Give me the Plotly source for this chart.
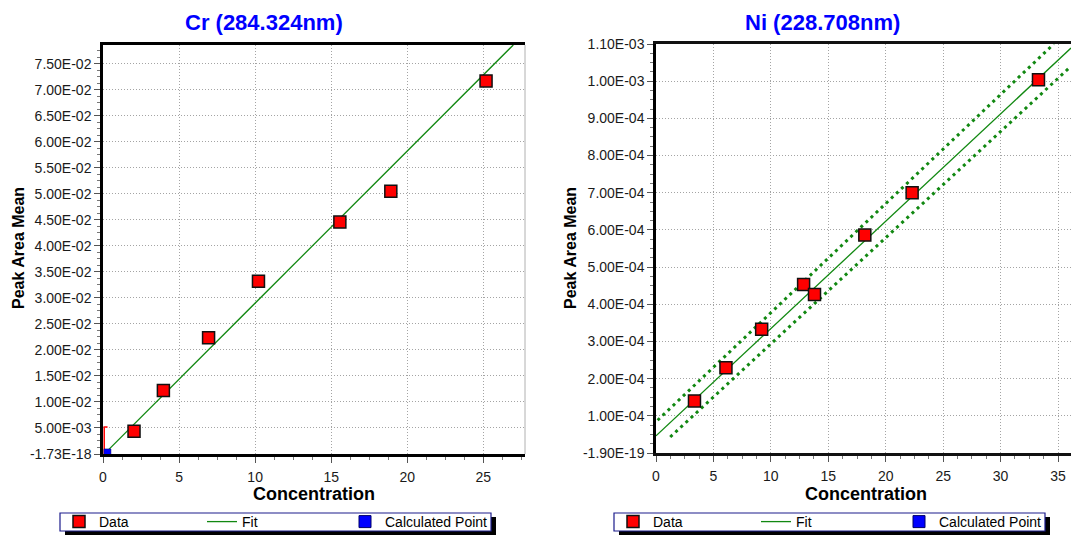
import plotly.graph_objects as go

W, H = 1071, 535

# ---------------- Cr panel data ----------------
cr_title = "Cr (284.324nm)"
cr_conc = [2.04, 3.97, 6.94, 10.22, 15.57, 18.92, 25.18]
cr_area = [0.00438, 0.01218, 0.02234, 0.03319, 0.04455, 0.0505, 0.07167]
cr_err = [0, 0, 0, 0, 0, 0, 0.0009]
cr_fit_x = [0.29, 26.97]
cr_fit_y = [0.0006, 0.07858]
cr_calc_x = [0.29]
cr_calc_y = [0.0003]
cr_bar_x = [0.3, 0.08, 0.08]
cr_bar_y = [0.0052, 0.0052, 0.0]
cr_xticks = [0, 5, 10, 15, 20, 25]
cr_yticks = [0.0, 0.005, 0.01, 0.015, 0.02, 0.025, 0.03, 0.035, 0.04,
             0.045, 0.05, 0.055, 0.06, 0.065, 0.07, 0.075]
cr_yticktext = ["-1.73E-18", "5.00E-03", "1.00E-02", "1.50E-02", "2.00E-02",
                "2.50E-02", "3.00E-02", "3.50E-02", "4.00E-02", "4.50E-02",
                "5.00E-02", "5.50E-02", "6.00E-02", "6.50E-02", "7.00E-02",
                "7.50E-02"]
cr_xrange = [0, 27.74]
cr_yrange = [0, 0.07858]

# ---------------- Ni panel data ----------------
ni_title = "Ni (228.708nm)"
ni_conc = [3.35, 6.09, 9.2, 12.85, 13.8, 18.18, 22.3, 33.3]
ni_area = [1.40e-4, 2.29e-4, 3.33e-4, 4.53e-4, 4.26e-4, 5.86e-4, 7.00e-4, 1.004e-3]
ni_fit_x = [0.0, 36.13]
ni_fit_y = [4.6e-5, 1.089e-3]
ni_up_x = [0.14, 34.63]
ni_up_y = [8.8e-5, 1.10e-3]
ni_lo_x = [1.24, 36.13]
ni_lo_y = [4.3e-5, 1.040e-3]
ni_xticks = [0, 5, 10, 15, 20, 25, 30, 35]
ni_yticks = [0.0, 1e-4, 2e-4, 3e-4, 4e-4, 5e-4, 6e-4, 7e-4, 8e-4, 9e-4, 1.0e-3, 1.1e-3]
ni_yticktext = ["-1.90E-19", "1.00E-04", "2.00E-04", "3.00E-04", "4.00E-04",
                "5.00E-04", "6.00E-04", "7.00E-04", "8.00E-04", "9.00E-04",
                "1.00E-03", "1.10E-03"]
ni_xrange = [0, 36.13]
ni_yrange = [0, 1.10e-3]

legend_names = ["Data", "Fit", "Calculated Point"]

FONT = "Arial, 'Liberation Sans', sans-serif"
RED = "#ff0000"
GREEN = "#118811"
BLUE = "#0000ff"
GRID = "#a4a4a4"


def px(x):
    return x / W


def py(y):
    return 1 - y / H


fig = go.Figure()

# ---- Cr traces ----
fig.add_trace(go.Scatter(x=cr_bar_x, y=cr_bar_y, mode="lines",
                         line=dict(color=RED, width=1.5), showlegend=False,
                         xaxis="x", yaxis="y", hoverinfo="skip"))
fig.add_trace(go.Scatter(x=cr_fit_x, y=cr_fit_y, mode="lines", name=legend_names[1],
                         line=dict(color=GREEN, width=1.3),
                         xaxis="x", yaxis="y", legend="legend", legendrank=2))
fig.add_trace(go.Scatter(x=cr_conc, y=cr_area, mode="markers", name=legend_names[0],
                         marker=dict(symbol="square", size=12, color=RED,
                                     line=dict(color="#111111", width=1.5)),
                         error_y=dict(type="data", array=cr_err, color=RED,
                                      thickness=1.5, width=3),
                         xaxis="x", yaxis="y", legend="legend", legendrank=1))
fig.add_trace(go.Scatter(x=cr_calc_x, y=cr_calc_y, mode="markers", name=legend_names[2],
                         marker=dict(symbol="square", size=7, color=BLUE,
                                     line=dict(color="#000066", width=0.5)),
                         showlegend=False, xaxis="x", yaxis="y"))
# legend entry for the calculated point (full-size swatch)
fig.add_trace(go.Scatter(x=[None], y=[None], mode="markers", name=legend_names[2],
                         marker=dict(symbol="square", size=12, color=BLUE,
                                     line=dict(color="#000066", width=1)),
                         xaxis="x", yaxis="y", legend="legend", legendrank=3))

# ---- Ni traces ----
for bx, by in ((ni_up_x, ni_up_y), (ni_lo_x, ni_lo_y)):
    fig.add_trace(go.Scatter(x=bx, y=by, mode="lines", showlegend=False,
                             line=dict(color=GREEN, width=3, dash="3px,4px"),
                             xaxis="x2", yaxis="y2", hoverinfo="skip"))
fig.add_trace(go.Scatter(x=ni_fit_x, y=ni_fit_y, mode="lines", name=legend_names[1],
                         line=dict(color=GREEN, width=1.3),
                         xaxis="x2", yaxis="y2", legend="legend2", legendrank=2))
fig.add_trace(go.Scatter(x=ni_conc, y=ni_area, mode="markers", name=legend_names[0],
                         marker=dict(symbol="square", size=12, color=RED,
                                     line=dict(color="#111111", width=1.5)),
                         xaxis="x2", yaxis="y2", legend="legend2", legendrank=1))
fig.add_trace(go.Scatter(x=[None], y=[None], mode="markers", name=legend_names[2],
                         marker=dict(symbol="square", size=12, color=BLUE,
                                     line=dict(color="#000066", width=1)),
                         xaxis="x2", yaxis="y2", legend="legend2", legendrank=3))


def xax(domain, rng, ticks, anchor, topcolor):
    return dict(domain=domain, range=rng, anchor=anchor, tickvals=ticks,
                automargin=False,
                showline=True, linecolor=topcolor, linewidth=2.5, mirror=True,
                ticks="outside", ticklen=6, tickcolor="#555555", tickwidth=1,
                minor=dict(ticks="outside", ticklen=3, dtick=1.25, tick0=0,
                           tickcolor="#777777", showgrid=False),
                showgrid=True, gridcolor=GRID, griddash="1px,2px", gridwidth=1,
                zeroline=False, tickfont=dict(family=FONT, size=14, color="#1a1a1a"),
                ticklabelstandoff=2, fixedrange=True)


def yax(domain, rng, ticks, text, anchor, mdt):
    return dict(domain=domain, range=rng, anchor=anchor, tickvals=ticks, ticktext=text,
                automargin=False,
                showline=True, linecolor="#000000", linewidth=2.5,
                ticks="outside", ticklen=6, tickcolor="#555555", tickwidth=1,
                minor=dict(ticks="outside", ticklen=3, dtick=mdt, tick0=0,
                           tickcolor="#777777", showgrid=False),
                showgrid=True, gridcolor=GRID, griddash="1px,2px", gridwidth=1,
                zeroline=False, tickfont=dict(family=FONT, size=14, color="#1a1a1a"),
                fixedrange=True)


L_X0, L_X1, L_Y0, L_Y1 = 103, 525, 45, 454
R_X0, R_X1, R_Y0, R_Y1 = 656, 1071, 44, 453

legend_common = dict(orientation="h", bgcolor="rgba(0,0,0,0)", borderwidth=0,
                     font=dict(family=FONT, size=14, color="#000000"),
                     entrywidth=98, entrywidthmode="pixels",
                     xanchor="left", yanchor="middle", itemclick=False,
                     itemdoubleclick=False, traceorder="normal")

fig.update_layout(
    width=W, height=H, margin=dict(l=0, r=0, t=0, b=0, autoexpand=False),
    paper_bgcolor="white", plot_bgcolor="white",
    font=dict(family=FONT),
    xaxis=xax([px(L_X0), px(L_X1)], cr_xrange, cr_xticks, "y", "#000000"),
    yaxis=yax([py(L_Y1), py(L_Y0)], cr_yrange, cr_yticks, cr_yticktext, "x", 0.00125),
    xaxis2=xax([px(R_X0), 1.0], ni_xrange, ni_xticks, "y2", "#111111"),
    yaxis2=yax([py(R_Y1), py(R_Y0)], ni_yrange, ni_yticks, ni_yticktext, "x2", 2.5e-5),
    legend=dict(x=px(59), y=py(522), **legend_common),
    legend2=dict(x=px(613), y=py(522), **legend_common),
    showlegend=True,
)

shapes = []
# right border of the left plot (thin gray)
shapes.append(dict(type="line", xref="x domain", yref="y domain", x0=1, x1=1, y0=0, y1=1,
                   line=dict(color="#b0b0b0", width=1)))
# legend boxes with shadow
for (x0, x1) in ((60, 491), (614, 1045)):
    shapes.append(dict(type="rect", xref="paper", yref="paper",
                       x0=px(x0 + 5), x1=px(x1 + 5), y0=py(536), y1=py(517),
                       fillcolor="#000000", line=dict(width=0), layer="below"))
    shapes.append(dict(type="rect", xref="paper", yref="paper",
                       x0=px(x0), x1=px(x1), y0=py(531), y1=py(513),
                       fillcolor="#ffffff", line=dict(color="#1c1c8c", width=1.2),
                       layer="below"))
fig.update_layout(shapes=shapes)

annots = [
    dict(text=f"<b>{cr_title}</b>", x=px(264), y=py(22)),
    dict(text=f"<b>{ni_title}</b>", x=px(822), y=py(22)),
]
for a in annots:
    a.update(xref="paper", yref="paper", showarrow=False, xanchor="center", yanchor="middle",
             font=dict(family=FONT, size=22, color=BLUE))
axis_titles = [
    dict(text="<b>Concentration</b>", x=px(314), y=py(494), textangle=0),
    dict(text="<b>Concentration</b>", x=px(866), y=py(494), textangle=0),
    dict(text="<b>Peak Area Mean</b>", x=px(18), y=py(248), textangle=-90),
    dict(text="<b>Peak Area Mean</b>", x=px(570), y=py(248), textangle=-90),
]
for a in axis_titles[:2]:
    a["font"] = dict(family=FONT, size=18, color="#000000")
for a in axis_titles[2:]:
    a["font"] = dict(family=FONT, size=16, color="#000000")
for a in axis_titles:
    a.update(xref="paper", yref="paper", showarrow=False, xanchor="center", yanchor="middle")
fig.update_layout(annotations=annots + axis_titles)

# remove the default 8px page margin so the figure fills the window exactly
fig.write_html("out.html",
               config={"displayModeBar": False},
               post_script="document.body.style.margin='0px';"
                           "document.body.style.overflow='hidden';")
